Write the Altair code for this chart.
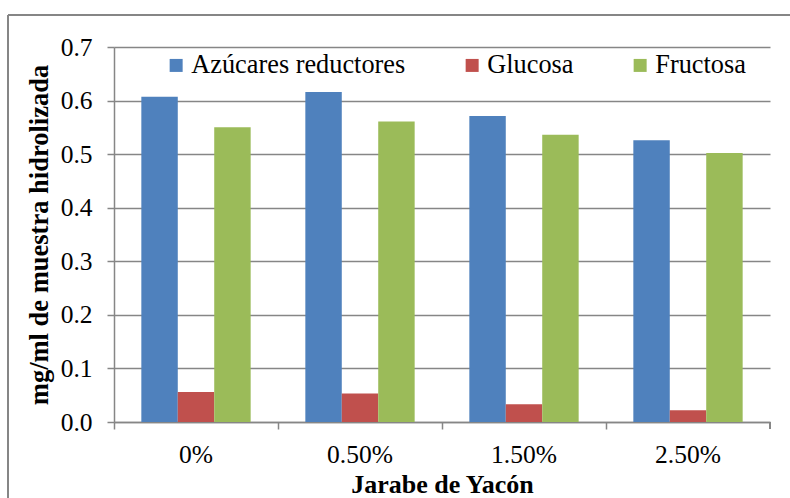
import altair as alt
import pandas as pd

categories = ["0%", "0.50%", "1.50%", "2.50%"]
series = ["Azúcares reductores", "Glucosa", "Fructosa"]
azucares = [0.607, 0.616, 0.571, 0.526]
glucosa = [0.056, 0.053, 0.033, 0.022]
fructosa = [0.550, 0.561, 0.536, 0.502]
colors = ["#4F81BD", "#C0504D", "#9BBB59"]
y_ticks = [0.0, 0.1, 0.2, 0.3, 0.4, 0.5, 0.6, 0.7]

rows = []
for i, c in enumerate(categories):
    for s, vals in zip(series, [azucares, glucosa, fructosa]):
        rows.append({"cat": c, "serie": s, "val": vals[i]})
df = pd.DataFrame(rows)

FONT = "Liberation Serif"
GRAY = "#868686"
W, H = 656, 375

bars = alt.Chart(df).mark_bar().encode(
    x=alt.X("cat:N", sort=categories,
            scale=alt.Scale(paddingInner=0, paddingOuter=0),
            axis=alt.Axis(title="Jarabe de Yacón", bandPosition=0,
                          labelAngle=0, grid=False, tickSize=7, tickColor=GRAY,
                          tickWidth=1.5, domainColor=GRAY, domainWidth=1.5,
                          labelPadding=13, labelFontSize=25.5, labelFont=FONT,
                          labelColor="black", titleFont=FONT, titleFontSize=26,
                          titleFontWeight="bold", titleColor="black",
                          titleY=70, titleBaseline="alphabetic")),
    xOffset=alt.XOffset("serie:N", sort=series,
                        scale=alt.Scale(paddingInner=0, paddingOuter=0.75)),
    y=alt.Y("val:Q", scale=alt.Scale(domain=[0, 0.7], nice=False),
            axis=alt.Axis(title="mg/ml de muestra hidrolizada", values=y_ticks,
                          format=".1f", tickSize=7, tickColor=GRAY, tickWidth=1.5,
                          domainColor=GRAY, domainWidth=1.5, gridColor=GRAY,
                          gridWidth=1.5, labelPadding=15, labelFontSize=25.5,
                          labelFont=FONT, labelColor="black", titleFont=FONT,
                          titleFontSize=26.5, titleFontWeight="bold",
                          titleColor="black", titleX=-67, titleY=H / 2,
                          titleBaseline="alphabetic")),
    color=alt.Color("serie:N", sort=series,
                    scale=alt.Scale(domain=series, range=colors),
                    legend=alt.Legend(title=None, orient="none", direction="horizontal",
                                      legendX=49, legendY=5, padding=0,
                                      symbolType="square", symbolSize=169,
                                      symbolStrokeWidth=0, labelFont=FONT,
                                      labelFontSize=26.3, labelColor="black",
                                      labelLimit=0, labelOffset=2, columnPadding=53)),
)

last_tick = alt.Chart(df).mark_rule(color=GRAY, strokeWidth=1.5).encode(
    x=alt.value(W), y=alt.value(H), y2=alt.value(H + 7))
frame_top = alt.Chart(df).mark_rule(color=GRAY, strokeWidth=1.5).encode(
    x=alt.value(-106), x2=alt.value(W + 30), y=alt.value(-32))
frame_left = alt.Chart(df).mark_rule(color=GRAY, strokeWidth=1.5).encode(
    x=alt.value(-106), y=alt.value(-32), y2=alt.value(H + 90))

chart = alt.layer(bars, last_tick, frame_top, frame_left).properties(
    width=W, height=H,
    autosize=alt.AutoSizeParams(type="none"),
    padding={"left": 114, "top": 47, "right": 20, "bottom": 76},
    background="white",
).configure(font=FONT).configure_axis(
    labelFont=FONT, titleFont=FONT
).configure_legend(labelFont=FONT).configure_view(stroke=None)

chart.save("out.html", embed_options={"renderer": "svg", "actions": False})
